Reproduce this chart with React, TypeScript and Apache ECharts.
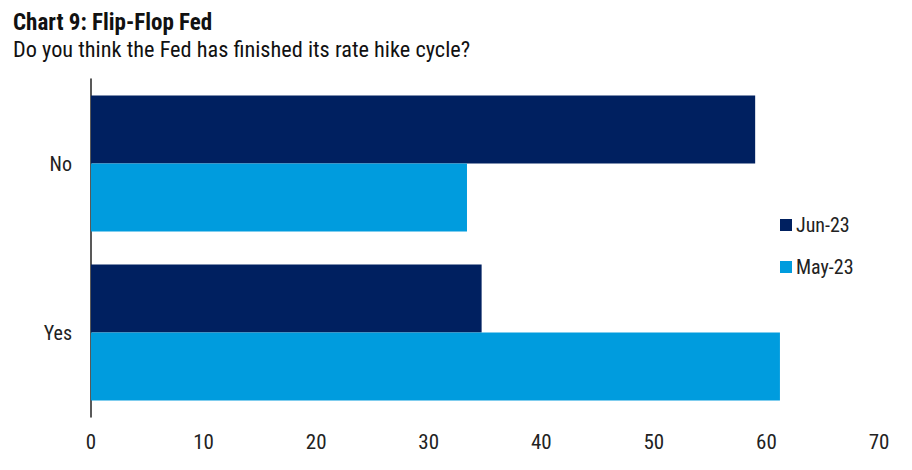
import React, { useEffect, useRef } from "react";
import * as echarts from "echarts";

const categories = ["No", "Yes"];
const jun23 = [59.0, 34.7];
const may23 = [33.4, 61.2];
const xTicks = { min: 0, max: 70, interval: 10 };

export default function App() {
  const ref = useRef<HTMLDivElement>(null);
  useEffect(() => {
    if (!ref.current) return;
    const chart = echarts.init(ref.current, null, { renderer: "svg" });
    const font = "'Liberation Sans Narrow', 'Roboto Condensed', Roboto, sans-serif";
    chart.setOption({
      animation: false,
      title: [
        {
          text: "Chart 9: Flip-Flop Fed",
          left: 0,
          top: -2,
          textStyle: { fontFamily: font, fontSize: 23, fontWeight: "bold", color: "#111" },
        },
        {
          text: "Do you think the Fed has finished its rate hike cycle?",
          left: 0,
          top: 25,
          textStyle: { fontFamily: font, fontSize: 22.3, fontWeight: "normal", color: "#111" },
        },
      ],
      legend: {
        orient: "vertical",
        left: 767,
        top: 202,
        itemWidth: 12,
        itemHeight: 12,
        itemGap: 22,
        icon: "rect",
        textStyle: { fontFamily: font, fontSize: 20, color: "#222", padding: [0, 0, 0, -1] },
        data: ["Jun-23", "May-23"],
      },
      grid: { left: 83, right: 25, top: 71, height: 338, containLabel: false },
      xAxis: {
        type: "value",
        min: xTicks.min,
        max: xTicks.max,
        interval: xTicks.interval,
        axisLine: { show: false },
        axisTick: { show: false },
        splitLine: { show: false },
        axisLabel: { fontFamily: font, fontSize: 21, color: "#222", margin: 14 },
      },
      yAxis: {
        type: "category",
        data: categories,
        inverse: true,
        axisLine: { show: true, lineStyle: { color: "#222", width: 1.5 } },
        axisTick: { show: false },
        axisLabel: { fontFamily: font, fontSize: 20, color: "#222", margin: 19 },
      },
      series: [
        {
          name: "Jun-23",
          type: "bar",
          data: jun23,
          itemStyle: { color: "#002060" },
          barGap: "0%",
          barCategoryGap: "19.5%",
        },
        {
          name: "May-23",
          type: "bar",
          data: may23,
          itemStyle: { color: "#009CDE" },
          barGap: "0%",
          barCategoryGap: "19.5%",
        },
      ],
    });
    return () => chart.dispose();
  }, []);
  return <div ref={ref} style={{ width: 896, height: 454 }} />;
}
